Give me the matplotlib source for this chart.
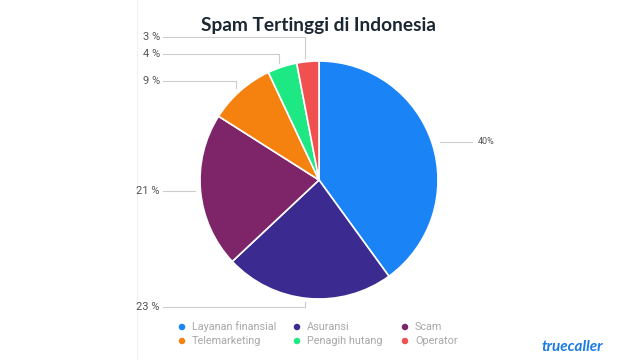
import matplotlib
matplotlib.use('Agg')
import matplotlib.pyplot as plt
import numpy as np

categories = ['Layanan finansial', 'Asuransi', 'Scam', 'Telemarketing', 'Penagih hutang', 'Operator']
values = [40, 23, 21, 9, 4, 3]
labels = ['40%', '23 %', '21 %', '9 %', '4 %', '3 %']
colors = ['#1a83f5', '#3b2a8f', '#7e2569', '#f5820f', '#1de884', '#f0504f']

W, H = 640, 360
fig = plt.figure(figsize=(6.4, 3.6), dpi=100)
ax = fig.add_axes([0, 0, 1, 1])

cx, cy, r = 319, H - 180, 119
wedges, _ = ax.pie(values, colors=colors, startangle=90, counterclock=False,
                   center=(cx, cy), radius=r, frame=True,
                   wedgeprops=dict(edgecolor='white', linewidth=1.2))
ax.set_xlim(0, W)
ax.set_ylim(0, H)
ax.set_aspect('equal')
ax.axis('off')

# faint page edge line
ax.plot([137, 137], [0, H], color='#f0f0f0', lw=0.8)

# label y positions (pixels from top)
label_y = [142, 307, 191, 81, 54, 37]
line_c = '#cccccc'
for w, lab, ly in zip(wedges, labels, label_y):
    ang = np.deg2rad((w.theta1 + w.theta2) / 2)
    px = cx + r * 1.03 * np.cos(ang)
    py = cy + r * 1.03 * np.sin(ang)
    y = H - ly
    if px > cx + 50:
        ax.plot([px + 4, 472], [y, y], color=line_c, lw=0.8)
        ax.text(478, y, lab, fontsize=6.5, color='#555555', va='center', ha='left',
                family='Roboto')
    else:
        ex = px - 2
        ax.plot([163, ex, ex], [y, y, py if abs(py - y) > 3 else y], color=line_c, lw=0.8)
        ax.text(160, y, lab, fontsize=8, color='#555555', va='center', ha='right',
                family='Roboto')

ax.text(318, H - 25, 'Spam Tertinggi di Indonesia', fontsize=13.8, fontweight='bold',
        family='Lato', color='#1b2733', ha='center', va='center')

# legend
leg_x = [182, 297, 405]
leg_y = [327, 341]
for i, (cat, col) in enumerate(zip(categories, colors)):
    x = leg_x[i % 3]
    y = H - leg_y[i // 3]
    ax.scatter([x], [y], s=22, color=col, edgecolors='none')
    ax.text(x + 10, y, cat, fontsize=7.8, color='#a8a8a8', va='center', ha='left',
            family='Roboto')

ax.text(572, H - 347, 'truecaller', fontsize=11, fontweight='bold', style='italic',
        color='#1a7be6', ha='center', va='center', family='Lato')

fig.savefig('out.png', dpi=100, facecolor='white')
